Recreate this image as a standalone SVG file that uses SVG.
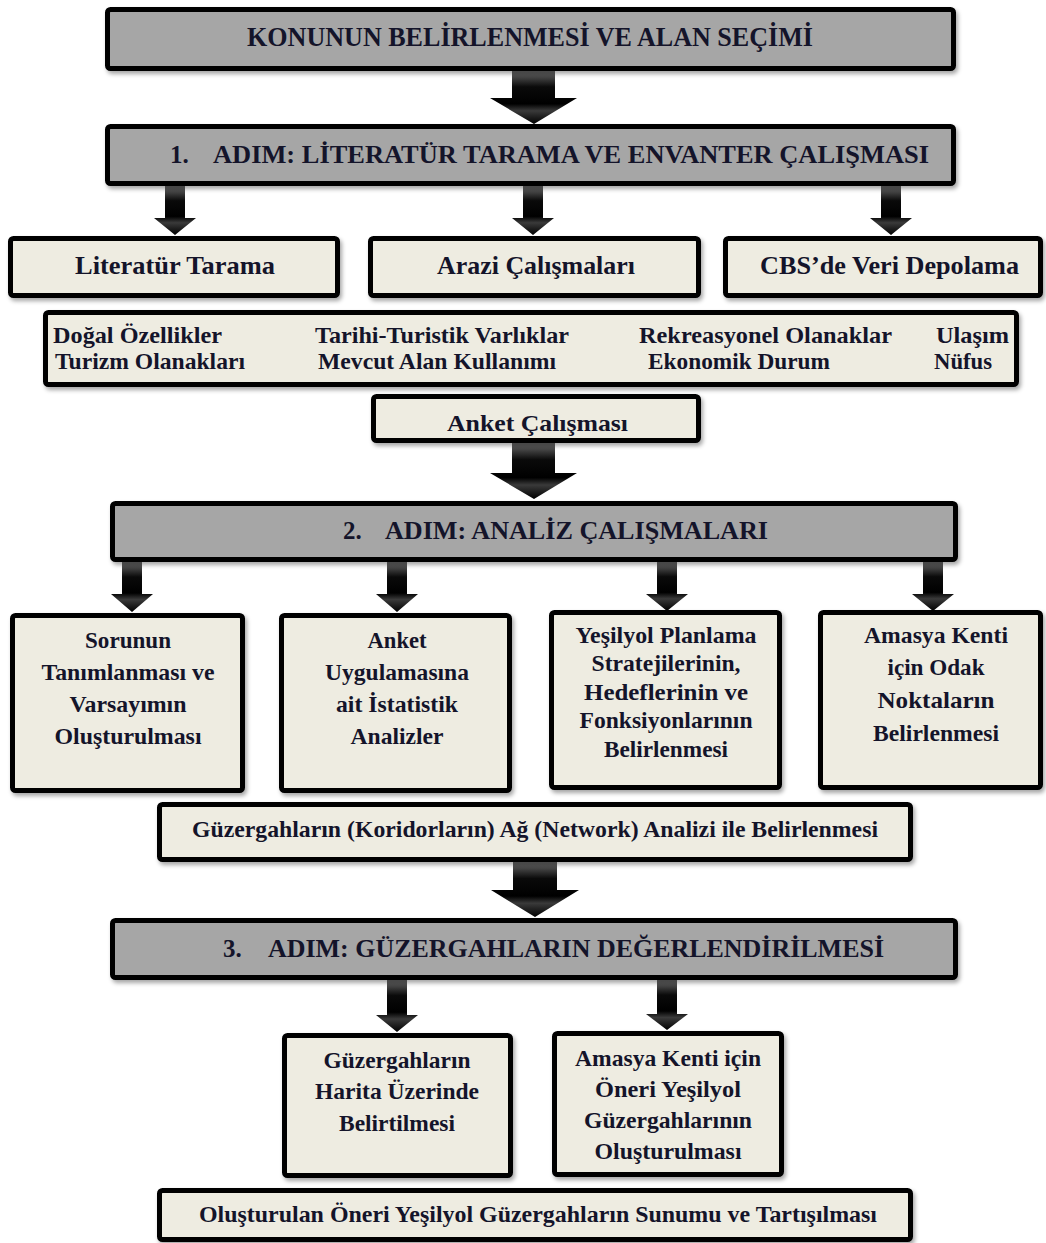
<svg xmlns="http://www.w3.org/2000/svg" width="1046" height="1243" viewBox="0 0 1046 1243">
<defs>
<filter id="sh" x="-5%" y="-10%" width="110%" height="130%">
<feDropShadow dx="2" dy="3" stdDeviation="2" flood-color="#000" flood-opacity="0.35"/>
</filter>
<linearGradient id="ag" x1="0" y1="0" x2="0" y2="1">
<stop offset="0" stop-color="#6a6a6a"/>
<stop offset="0.3" stop-color="#0a0a0a"/>
<stop offset="0.62" stop-color="#000"/>
<stop offset="0.75" stop-color="#3a3a3a"/>
<stop offset="1" stop-color="#000"/>
</linearGradient>
<style>
.step{fill:#a6a6a6;stroke:#000;stroke-width:5;filter:url(#sh)}
.box{fill:#eeece1;stroke:#000;stroke-width:5;filter:url(#sh)}
text{font-family:"Liberation Serif","Times New Roman",serif;font-weight:bold;fill:#14142a}
.c{text-anchor:middle}
.t28{font-size:28px}
.t25{font-size:25px}
.t24{font-size:24px}
.t23{font-size:23px}
.arr{fill:url(#ag)}
</style>
</defs>

<g id="connectors">
<path class="arr" d="M512,71 H555 V98 H577 L534,124 L490,98 H512 Z"/>
<path class="arr" d="M165,186 H185 V218 H196 L175,235 L154,218 H165 Z"/>
<path class="arr" d="M523,186 H543 V218 H554 L533,235 L512,218 H523 Z"/>
<path class="arr" d="M881,186 H901 V218 H912 L891,235 L870,218 H881 Z"/>
<path class="arr" d="M512,443 H555 V473 H577 L534,499 L490,473 H512 Z"/>
<path class="arr" d="M122,562 H142 V594 H153 L132,612 L111,594 H122 Z"/>
<path class="arr" d="M387,562 H407 V594 H418 L397,612 L376,594 H387 Z"/>
<path class="arr" d="M657,562 H677 V594 H688 L667,611 L646,594 H657 Z"/>
<path class="arr" d="M923,562 H943 V594 H954 L933,611 L912,594 H923 Z"/>
<path class="arr" d="M513,862 H557 V890 H579 L535,917 L491,890 H513 Z"/>
<path class="arr" d="M387,980 H407 V1015 H418 L397,1032 L376,1015 H387 Z"/>
<path class="arr" d="M657,980 H677 V1014 H688 L667,1030 L646,1014 H657 Z"/>
</g>

<g id="n-konu">
<rect class="step" x="107.5" y="9.5" width="846" height="59" rx="3"/>
<text class="t28" x="247" y="46" textLength="566" lengthAdjust="spacingAndGlyphs">KONUNUN BELİRLENMESİ VE ALAN SEÇİMİ</text>
</g>

<g id="n-adim1">
<rect class="step" x="107.5" y="126.5" width="846" height="57" rx="3"/>
<text class="t25" x="170" y="163">1.</text>
<text class="t25" x="213" y="163" textLength="716" lengthAdjust="spacingAndGlyphs">ADIM: LİTERATÜR TARAMA VE ENVANTER ÇALIŞMASI</text>
</g>

<g id="n-literatur">
<rect class="box" x="10.5" y="238.5" width="327" height="57" rx="3"/>
<text class="t25" x="75" y="274" textLength="200" lengthAdjust="spacingAndGlyphs">Literatür Tarama</text>
</g>

<g id="n-arazi">
<rect class="box" x="370.5" y="238.5" width="328" height="57" rx="3"/>
<text class="t25" x="437" y="274" textLength="198" lengthAdjust="spacingAndGlyphs">Arazi Çalışmaları</text>
</g>

<g id="n-cbs">
<rect class="box" x="725.5" y="238.5" width="315" height="57" rx="3"/>
<text class="t25" x="760" y="274" textLength="259" lengthAdjust="spacingAndGlyphs">CBS’de Veri Depolama</text>
</g>

<g id="n-envanter">
<rect class="box" x="45.5" y="312.5" width="971" height="72" rx="3"/>
<text class="t23" x="53" y="343" textLength="169" lengthAdjust="spacingAndGlyphs">Doğal  Özellikler</text>
<text class="t23" x="55" y="369" textLength="190" lengthAdjust="spacingAndGlyphs">Turizm Olanakları</text>
<text class="t23" x="315" y="343" textLength="254" lengthAdjust="spacingAndGlyphs">Tarihi-Turistik  Varlıklar</text>
<text class="t23" x="318" y="369" textLength="238" lengthAdjust="spacingAndGlyphs">Mevcut Alan Kullanımı</text>
<text class="t23" x="639" y="343" textLength="253" lengthAdjust="spacingAndGlyphs">Rekreasyonel  Olanaklar</text>
<text class="t23" x="648" y="369" textLength="182" lengthAdjust="spacingAndGlyphs">Ekonomik Durum</text>
<text class="t23" x="936" y="343" textLength="73" lengthAdjust="spacingAndGlyphs">Ulaşım</text>
<text class="t23" x="934" y="369" textLength="58" lengthAdjust="spacingAndGlyphs">Nüfus</text>
</g>

<g id="n-anket">
<rect class="box" x="373.5" y="396.5" width="325" height="44" rx="3"/>
<text class="t24" x="447" y="431" textLength="181" lengthAdjust="spacingAndGlyphs">Anket Çalışması</text>
</g>

<g id="n-adim2">
<rect class="step" x="112.5" y="503.5" width="843" height="56" rx="3"/>
<text class="t25" x="343" y="539">2.</text>
<text class="t25" x="385" y="539" textLength="383" lengthAdjust="spacingAndGlyphs">ADIM: ANALİZ ÇALIŞMALARI</text>
</g>

<g id="n-sorun">
<rect class="box" x="12.5" y="615.5" width="230" height="175" rx="3"/>
<text class="t24 c" x="128" y="648" textLength="86" lengthAdjust="spacingAndGlyphs">Sorunun</text>
<text class="t24 c" x="128" y="680" textLength="173" lengthAdjust="spacingAndGlyphs">Tanımlanması ve</text>
<text class="t24 c" x="128" y="712" textLength="117" lengthAdjust="spacingAndGlyphs">Varsayımın</text>
<text class="t24 c" x="128" y="744" textLength="147" lengthAdjust="spacingAndGlyphs">Oluşturulması</text>
</g>

<g id="n-istatistik">
<rect class="box" x="281.5" y="615.5" width="228" height="175" rx="3"/>
<text class="t24 c" x="397" y="648" textLength="59" lengthAdjust="spacingAndGlyphs">Anket</text>
<text class="t24 c" x="397" y="680" textLength="144" lengthAdjust="spacingAndGlyphs">Uygulamasına</text>
<text class="t24 c" x="397" y="712" textLength="122" lengthAdjust="spacingAndGlyphs">ait İstatistik</text>
<text class="t24 c" x="397" y="744" textLength="93" lengthAdjust="spacingAndGlyphs">Analizler</text>
</g>

<g id="n-strateji">
<rect class="box" x="551.5" y="612.5" width="228" height="175" rx="3"/>
<text class="t23 c" x="666" y="643" textLength="181" lengthAdjust="spacingAndGlyphs">Yeşilyol Planlama</text>
<text class="t23 c" x="666" y="671" textLength="149" lengthAdjust="spacingAndGlyphs">Stratejilerinin,</text>
<text class="t23 c" x="666" y="700" textLength="164" lengthAdjust="spacingAndGlyphs">Hedeflerinin ve</text>
<text class="t23 c" x="666" y="728" textLength="173" lengthAdjust="spacingAndGlyphs">Fonksiyonlarının</text>
<text class="t23 c" x="666" y="757" textLength="124" lengthAdjust="spacingAndGlyphs">Belirlenmesi</text>
</g>

<g id="n-odak">
<rect class="box" x="820.5" y="612.5" width="220" height="175" rx="3"/>
<text class="t24 c" x="936" y="643" textLength="144" lengthAdjust="spacingAndGlyphs">Amasya Kenti</text>
<text class="t24 c" x="936" y="675" textLength="97" lengthAdjust="spacingAndGlyphs">için Odak</text>
<text class="t24 c" x="936" y="708" textLength="117" lengthAdjust="spacingAndGlyphs">Noktaların</text>
<text class="t24 c" x="936" y="741" textLength="126" lengthAdjust="spacingAndGlyphs">Belirlenmesi</text>
</g>

<g id="n-network">
<rect class="box" x="159.5" y="804.5" width="751" height="55" rx="3"/>
<text class="t23" x="192" y="837" textLength="686" lengthAdjust="spacingAndGlyphs">Güzergahların (Koridorların) Ağ (Network) Analizi ile Belirlenmesi</text>
</g>

<g id="n-adim3">
<rect class="step" x="112.5" y="920.5" width="843" height="57" rx="3"/>
<text class="t25" x="223" y="957">3.</text>
<text class="t25" x="268" y="957" textLength="616" lengthAdjust="spacingAndGlyphs">ADIM: GÜZERGAHLARIN DEĞERLENDİRİLMESİ</text>
</g>

<g id="n-harita">
<rect class="box" x="284.5" y="1035.5" width="226" height="140" rx="3"/>
<text class="t24 c" x="397" y="1068" textLength="147" lengthAdjust="spacingAndGlyphs">Güzergahların</text>
<text class="t24 c" x="397" y="1099" textLength="164" lengthAdjust="spacingAndGlyphs">Harita Üzerinde</text>
<text class="t24 c" x="397" y="1131" textLength="116" lengthAdjust="spacingAndGlyphs">Belirtilmesi</text>
</g>

<g id="n-oneri">
<rect class="box" x="554.5" y="1033.5" width="227" height="141" rx="3"/>
<text class="t24 c" x="668" y="1066" textLength="186" lengthAdjust="spacingAndGlyphs">Amasya Kenti için</text>
<text class="t24 c" x="668" y="1097" textLength="146" lengthAdjust="spacingAndGlyphs">Öneri Yeşilyol</text>
<text class="t24 c" x="668" y="1128" textLength="168" lengthAdjust="spacingAndGlyphs">Güzergahlarının</text>
<text class="t24 c" x="668" y="1159" textLength="147" lengthAdjust="spacingAndGlyphs">Oluşturulması</text>
</g>

<g id="n-sunum">
<rect class="box" x="159.5" y="1190.5" width="751" height="49" rx="3"/>
<text class="t23" x="199" y="1222" textLength="678" lengthAdjust="spacingAndGlyphs">Oluşturulan Öneri Yeşilyol Güzergahların Sunumu ve Tartışılması</text>
</g>
</svg>
